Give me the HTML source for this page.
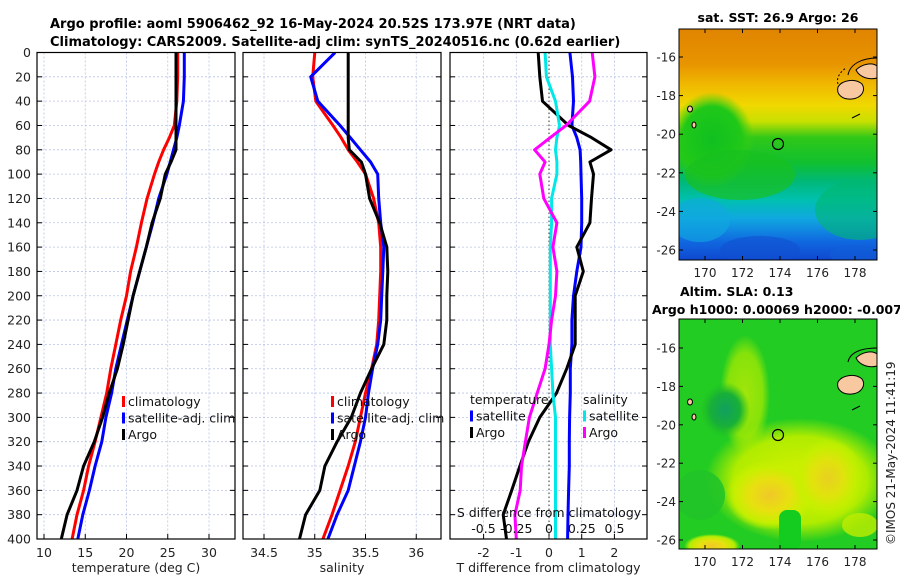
<!DOCTYPE html>
<html><head><meta charset="utf-8">
<style>
html,body{margin:0;padding:0;background:#fff;}
svg{display:block;font-family:"DejaVu Sans","Liberation Sans",sans-serif;}
</style></head>
<body>
<svg id="chart" width="900" height="580" viewBox="0 0 900 580" xmlns="http://www.w3.org/2000/svg">
<defs>
  <linearGradient id="sstGrad" x1="0" y1="0" x2="0" y2="1">
    <stop offset="0" stop-color="#e08400"/>
    <stop offset="0.15" stop-color="#e89400"/>
    <stop offset="0.24" stop-color="#f0b800"/>
    <stop offset="0.33" stop-color="#f0d800"/>
    <stop offset="0.40" stop-color="#c8e000"/>
    <stop offset="0.47" stop-color="#30c818"/>
    <stop offset="0.58" stop-color="#10c030"/>
    <stop offset="0.66" stop-color="#00b878"/>
    <stop offset="0.74" stop-color="#00c0b0"/>
    <stop offset="0.82" stop-color="#10a8e0"/>
    <stop offset="0.92" stop-color="#1068e0"/>
    <stop offset="1" stop-color="#1048d0"/>
  </linearGradient>
  <radialGradient id="slaYellow"><stop offset="0" stop-color="#f0c828"/><stop offset="0.45" stop-color="#e8e010"/><stop offset="0.8" stop-color="#c8f000" stop-opacity="0.9"/><stop offset="1" stop-color="#c8f000" stop-opacity="0"/></radialGradient>
  <radialGradient id="slaLime"><stop offset="0" stop-color="#d8f000"/><stop offset="0.7" stop-color="#b0ec00"/><stop offset="1" stop-color="#b0ec00" stop-opacity="0"/></radialGradient>
  <radialGradient id="slaDark"><stop offset="0" stop-color="#10a060"/><stop offset="0.6" stop-color="#18b038"/><stop offset="1" stop-color="#20c020" stop-opacity="0"/></radialGradient>
  <radialGradient id="sstGreen"><stop offset="0" stop-color="#10c020"/><stop offset="0.7" stop-color="#20c818"/><stop offset="1" stop-color="#40d010" stop-opacity="0"/></radialGradient>
  <clipPath id="clipMap1"><rect x="679" y="29" width="198" height="231"/></clipPath>
  <clipPath id="clipMap2"><rect x="679" y="319" width="198" height="230"/></clipPath>
  <clipPath id="clipP1"><rect x="37" y="52" width="198" height="487"/></clipPath>
  <clipPath id="clipP2"><rect x="243" y="52" width="198" height="487"/></clipPath>
  <clipPath id="clipP3"><rect x="450" y="52" width="197" height="487"/></clipPath>
</defs>

<text x="50" y="28" font-size="13" font-weight="bold">Argo profile: aoml 5906462_92 16-May-2024 20.52S 173.97E (NRT data)</text>
<text x="50" y="46" font-size="13" font-weight="bold">Climatology: CARS2009. Satellite-adj clim: synTS_20240516.nc (0.62d earlier)</text>

<g id="panels"></g>

<!-- SST map -->
<g>
  <text x="778" y="22" font-size="12.5" font-weight="bold" text-anchor="middle">sat. SST: 26.9 Argo: 26</text>
  <g clip-path="url(#clipMap1)">
    <rect x="679" y="29" width="198" height="231" fill="url(#sstGrad)"/>
    <ellipse cx="712" cy="140" rx="42" ry="48" fill="url(#sstGreen)"/>
    <ellipse cx="740" cy="175" rx="55" ry="25" fill="#18c020" opacity="0.7"/>
    <ellipse cx="860" cy="210" rx="45" ry="30" fill="#00b870" opacity="0.6"/>
    <ellipse cx="700" cy="220" rx="30" ry="22" fill="#10a8e0" opacity="0.6"/>
    <ellipse cx="760" cy="250" rx="40" ry="14" fill="#1050d0" opacity="0.6"/>
    <ellipse cx="855" cy="255" rx="25" ry="10" fill="#1060d8" opacity="0.5"/>
  </g>
  <g stroke="#000" stroke-width="1">
    <path d="M838,87 C842,80 855,78 862,84 C866,90 862,98 852,99 C842,100 836,94 838,87 Z" fill="#f8c8a0"/>
    <path d="M856,70 C862,64 872,62 877,66 L877,78 C870,80 860,78 856,70 Z" fill="#f8c8a0"/>
    <path d="M848,75 C850,64 862,58 877,58" fill="none"/>
    <path d="M838,84 C836,78 840,72 846,68" fill="none" stroke-dasharray="2,2"/>
    <ellipse cx="690" cy="109" rx="2.5" ry="3" fill="#f8c8a0"/>
    <ellipse cx="694" cy="125" rx="2" ry="3" fill="#f8c8a0"/>
    <path d="M852,118 l8,-4" fill="none"/>
  </g>
  <circle cx="778" cy="144" r="5.5" fill="none" stroke="#000" stroke-width="1.2"/>
  <rect x="679" y="29" width="198" height="231" fill="none" stroke="#000" stroke-width="1"/>
  <g id="map1ticks"></g>
</g>

<!-- SLA map -->
<g>
  <text x="680" y="296" font-size="12.5" font-weight="bold">Altim. SLA: 0.13</text>
  <text x="652" y="314" font-size="12.5" font-weight="bold">Argo h1000: 0.00069 h2000: -0.007</text>
  <g clip-path="url(#clipMap2)">
    <rect x="679" y="319" width="198" height="230" fill="#22cc22"/>
    <ellipse cx="745" cy="395" rx="25" ry="60" fill="url(#slaLime)" opacity="0.7"/>
    <ellipse cx="800" cy="480" rx="95" ry="62" fill="url(#slaLime)"/>
    <ellipse cx="770" cy="495" rx="45" ry="35" fill="url(#slaYellow)"/>
    <ellipse cx="828" cy="478" rx="35" ry="40" fill="url(#slaYellow)" opacity="0.8"/>
    <ellipse cx="725" cy="410" rx="25" ry="28" fill="url(#slaDark)"/>
    <ellipse cx="700" cy="495" rx="25" ry="25" fill="#22c428" opacity="0.9"/>
    <rect x="779" y="510" width="22" height="40" rx="8" fill="#14cc20"/>
    <ellipse cx="712" cy="546" rx="28" ry="12" fill="url(#slaYellow)"/>
    <ellipse cx="860" cy="525" rx="18" ry="12" fill="#c0ec00" opacity="0.8"/>
  </g>
  <g stroke="#000" stroke-width="1">
    <path d="M838,382 C842,375 855,373 862,379 C866,385 862,393 852,394 C842,395 836,389 838,382 Z" fill="#f8c8a0"/>
    <path d="M856,358 C862,352 872,350 877,354 L877,366 C870,368 860,366 856,358 Z" fill="#f8c8a0"/>
    <path d="M848,362 C850,352 862,348 877,348" fill="none"/>
    <ellipse cx="690" cy="402" rx="2.5" ry="3" fill="#f8c8a0"/>
    <ellipse cx="694" cy="417" rx="2" ry="3" fill="#f8c8a0"/>
    <path d="M852,410 l8,-4" fill="none"/>
  </g>
  <circle cx="778" cy="435" r="5.5" fill="none" stroke="#000" stroke-width="1.2"/>
  <rect x="679" y="319" width="198" height="230" fill="none" stroke="#000" stroke-width="1"/>
  <g id="map2ticks"></g>
</g>

<text transform="translate(895,545) rotate(-90)" font-size="12" fill="#222">©IMOS 21-May-2024 11:41:19</text>
</svg>

<script>
// ---- data ----
const depths = [0,20,40,60,70,80,90,100,120,140,160,180,200,220,240,260,280,300,320,340,360,380,400];
const tempClim = [26.2,26.2,26.1,25.8,25.2,24.5,23.9,23.4,22.5,21.8,21.2,20.5,20.0,19.3,18.7,18.1,17.6,16.9,16.2,15.4,14.8,14.0,13.4];
const tempSat = [27.0,27.0,26.9,26.4,26.1,25.7,25.3,24.9,23.9,23.2,22.4,21.6,20.8,20.1,19.4,18.7,18.2,17.5,17.0,16.2,15.5,14.7,14.1];
const tempArgo = [26.0,26.0,26.0,26.0,26.0,26.0,25.4,24.7,24.1,23.1,22.4,21.6,20.8,20.2,19.6,18.9,17.9,17.1,16.1,14.8,14.0,12.8,12.1];
const salClim = [35.0,34.98,35.01,35.18,35.26,35.33,35.42,35.5,35.58,35.63,35.65,35.65,35.64,35.63,35.61,35.56,35.5,35.45,35.4,35.33,35.25,35.17,35.08];
const salSat = [35.2,34.96,35.03,35.25,35.35,35.45,35.55,35.62,35.63,35.65,35.68,35.67,35.66,35.65,35.62,35.57,35.53,35.5,35.45,35.39,35.33,35.22,35.13];
const salArgo = [35.33,35.33,35.33,35.33,35.33,35.34,35.46,35.5,35.54,35.64,35.71,35.72,35.71,35.71,35.68,35.56,35.45,35.36,35.22,35.1,35.05,34.91,34.85];
const tDiffSat = [0.64,0.72,0.75,0.7,0.85,0.95,0.97,0.98,1.0,1.0,0.98,0.85,0.75,0.7,0.7,0.65,0.65,0.63,0.62,0.62,0.6,0.58,0.57];
const tDiffArgo = [-0.33,-0.28,-0.2,0.6,1.3,1.9,1.25,1.36,1.3,1.25,0.85,1.05,0.8,0.8,0.8,0.54,0.23,-0.28,-0.63,-0.89,-1.14,-1.4,-1.3];
const sDiffSat = [-0.03,-0.02,0.05,0.08,0.06,0.05,0.06,0.06,0.02,0.02,0.01,0.01,0.01,0.01,0.01,0.02,0.03,0.05,0.05,0.05,0.05,0.05,0.05];
const sDiffArgo = [0.33,0.35,0.31,0.13,0.01,-0.11,-0.03,-0.07,-0.04,0.06,0.03,0.06,0.05,0.02,0.0,-0.03,-0.09,-0.15,-0.18,-0.21,-0.22,-0.26,-0.25];
const depthTicks = [0,20,40,60,80,100,120,140,160,180,200,220,240,260,280,300,320,340,360,380,400];
const tempTicks = [10,15,20,25,30];
const salTicks = [34.5,35,35.5,36];
const tDiffTicks = [-2,-1,0,1,2];
const sDiffTicks = [-0.5,-0.25,0,0.25,0.5];
const sDiffTickLabels = ['-0.5','-0.25','0','0.25','0.5'];
const lonTicks = [170,172,174,176,178];
const latTicks = [-16,-18,-20,-22,-24,-26];

// ---- scales ----
const NS = 'http://www.w3.org/2000/svg';
const Y0 = 52.5, Y1 = 539;
function yD(d){ return Y0 + d*(Y1-Y0)/400; }
function xT(t){ return 44 + (t-10)*8.25; }
function xS(s){ return 264 + (s-34.5)*101.5; }
function xTD(v){ return 549 + v*32.7; }
function xSD(v){ return 549 + v*131; }
function mk(tag, attrs, parent){
  const e = document.createElementNS(NS, tag);
  for (const k in attrs) e.setAttribute(k, attrs[k]);
  parent.appendChild(e); return e;
}
const root = document.getElementById('panels');

function drawPanel(name, x0, x1, ticks, xf, tickLabels, xlabel, showY){
  const g = mk('g', {}, root);
  
  
  depthTicks.forEach(d => {
    const l = mk('line', {x1:x0, x2:x1, y1:yD(d), y2:yD(d), stroke:'#b8c4e8', 'stroke-width':0.8, 'stroke-dasharray':'2,2'}, g);
    
    
    mk('line', {x1:x0, x2:x0+5, y1:yD(d), y2:yD(d), stroke:'#000'}, g);
    mk('line', {x1:x1-5, x2:x1, y1:yD(d), y2:yD(d), stroke:'#000'}, g);
    if (showY){
      const t = mk('text', {x:x0-6, y:yD(d)+4.5, 'font-size':12.5, 'text-anchor':'end', fill:'#222'}, g);
      
      
      t.textContent = d;
    }
  });
  ticks.forEach((v,i) => {
    const x = xf(v);
    const l = mk('line', {x1:x, x2:x, y1:Y0, y2:Y1, stroke:'#b8c4e8', 'stroke-width':0.8, 'stroke-dasharray':'2,2'}, g);
    
    
    mk('line', {x1:x, x2:x, y1:Y1, y2:Y1-5, stroke:'#000'}, g);
    const t = mk('text', {x:x, y:557, 'font-size':12.5, 'text-anchor':'middle', fill:'#222'}, g);
    
    
    t.textContent = tickLabels[i];
  });
  const xl = mk('text', {x:(x0+x1)/2, y:572, 'font-size':12.5, 'text-anchor':'middle', fill:'#222'}, g);
  
  
  xl.textContent = xlabel;
  return g;
}
function drawLine(g, vals, xf, color, name, clip){
  const pts = vals.map((v,i) => xf(v).toFixed(1)+','+yD(depths[i]).toFixed(1)).join(' ');
  const p = mk('polyline', {points:pts, fill:'none', stroke:color, 'stroke-width':3, 'stroke-linejoin':'round', 'clip-path':'url(#'+clip+')'}, g);
  
  
}
function frame(g, x0, x1){
  mk('rect', {x:x0, y:Y0, width:x1-x0, height:Y1-Y0, fill:'none', stroke:'#000', 'stroke-width':1.2}, g);
}
function legend(g, x, y, items){
  items.forEach((it,i) => {
    const yy = y + i*16.5;
    if (it.color){
      const m = mk('rect', {x:x, y:yy-10, width:3, height:11, fill:it.color}, g);
      
      
    }
    const t = mk('text', {x:x+(it.color?6:0), y:yy, 'font-size':12.5, fill:'#111'}, g);
    
    
    t.textContent = it.label;
  });
}

const g1 = drawPanel('temperature-panel', 37, 235, tempTicks, xT, tempTicks.map(String), 'temperature (deg C)', true);
drawLine(g1, tempClim, xT, '#ff0000', 'temp-climatology-line', 'clipP1');
drawLine(g1, tempSat, xT, '#0000ff', 'temp-satellite-line', 'clipP1');
drawLine(g1, tempArgo, xT, '#000000', 'temp-argo-line', 'clipP1');
frame(g1, 37, 235);
legend(g1, 122, 406, [{label:'climatology',color:'#ff0000'},{label:'satellite-adj. clim',color:'#0000ff'},{label:'Argo',color:'#000'}]);

const g2 = drawPanel('salinity-panel', 243, 441, salTicks, xS, salTicks.map(String), 'salinity', false);
drawLine(g2, salClim, xS, '#ff0000', 'sal-climatology-line', 'clipP2');
drawLine(g2, salSat, xS, '#0000ff', 'sal-satellite-line', 'clipP2');
drawLine(g2, salArgo, xS, '#000000', 'sal-argo-line', 'clipP2');
frame(g2, 243, 441);
legend(g2, 331, 406, [{label:'climatology',color:'#ff0000'},{label:'satellite-adj. clim',color:'#0000ff'},{label:'Argo',color:'#000'}]);

const g3 = drawPanel('difference-panel', 450, 647, tDiffTicks, xTD, tDiffTicks.map(String), 'T difference from climatology', false);
const zl = mk('line', {x1:549, x2:549, y1:Y0, y2:Y1, stroke:'#333', 'stroke-width':1, 'stroke-dasharray':'1.5,2.5'}, g3);


drawLine(g3, tDiffSat, xTD, '#0000ff', 'tdiff-satellite-line', 'clipP3');
drawLine(g3, tDiffArgo, xTD, '#000000', 'tdiff-argo-line', 'clipP3');
drawLine(g3, sDiffSat, xSD, '#00e8e8', 'sdiff-satellite-line', 'clipP3');
drawLine(g3, sDiffArgo, xSD, '#ff00ff', 'sdiff-argo-line', 'clipP3');
frame(g3, 450, 647);
legend(g3, 470, 404, [{label:'temperature'},{label:'satellite',color:'#0000ff'},{label:'Argo',color:'#000'}]);
legend(g3, 583, 404, [{label:'salinity'},{label:'satellite',color:'#00e8e8'},{label:'Argo',color:'#ff00ff'}]);
const st = mk('text', {x:549, y:517, 'font-size':12.5, 'text-anchor':'middle', fill:'#111'}, g3);


st.textContent = 'S difference from climatology';
sDiffTicks.forEach((v,i) => {
  const t = mk('text', {x:xSD(v), y:533, 'font-size':12.5, 'text-anchor':'middle', fill:'#111'}, g3);
  
  
  t.textContent = sDiffTickLabels[i];
});

function mapTicks(id, top, bottom, latY, labelY){
  const g = document.getElementById(id);
  lonTicks.forEach(lon => {
    const x = 705 + (lon-170)*18.75;
    mk('line', {x1:x, x2:x, y1:bottom, y2:bottom-4, stroke:'#000'}, g);
    mk('line', {x1:x, x2:x, y1:top, y2:top+4, stroke:'#000'}, g);
    const t = mk('text', {x:x, y:labelY, 'font-size':12, 'text-anchor':'middle', fill:'#222'}, g);
    
    
    t.textContent = lon;
  });
  latTicks.forEach(lat => {
    const y = latY(lat);
    mk('line', {x1:679, x2:683, y1:y, y2:y, stroke:'#000'}, g);
    mk('line', {x1:873, x2:877, y1:y, y2:y, stroke:'#000'}, g);
    const t = mk('text', {x:676, y:y+4.5, 'font-size':12, 'text-anchor':'end', fill:'#222'}, g);
    
    
    t.textContent = lat;
  });
}
mapTicks('map1ticks', 29, 260, lat => 57 + (-16-lat)*19.3, 277);
mapTicks('map2ticks', 319, 549, lat => 348 + (-16-lat)*19.2, 566);
</script>
</body></html>
